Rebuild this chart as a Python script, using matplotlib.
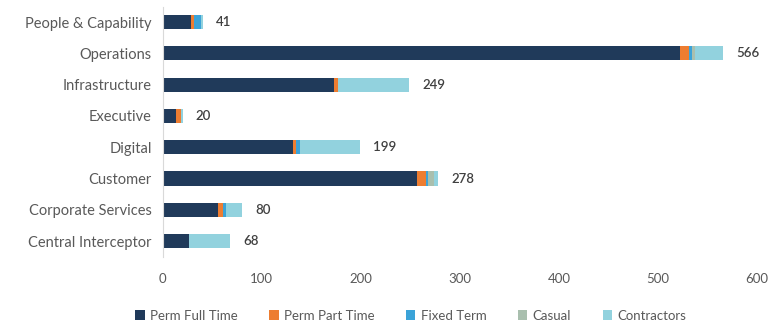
import matplotlib.pyplot as plt
import numpy as np

plt.rcParams['font.family'] = ['Lato', 'DejaVu Sans']

# Headcount by division, split by employment type
divisions = ['People & Capability', 'Operations', 'Infrastructure', 'Executive',
             'Digital', 'Customer', 'Corporate Services', 'Central Interceptor']
perm_full_time = [29, 522, 173, 13, 131, 257, 56, 26]
perm_part_time = [3, 9, 4, 5, 3, 9, 5, 0]
fixed_term = [7, 3, 0, 0, 5, 2, 3, 0]
casual = [0, 3, 0, 0, 0, 6, 0, 0]
contractors = [2, 29, 72, 2, 60, 4, 16, 42]
totals = [41, 566, 249, 20, 199, 278, 80, 68]

series = [
    ('Perm Full Time', perm_full_time, '#203a5a'),
    ('Perm Part Time', perm_part_time, '#ed7d31'),
    ('Fixed Term', fixed_term, '#3ba3d8'),
    ('Casual', casual, '#a9bfae'),
    ('Contractors', contractors, '#92d2de'),
]

fig = plt.figure(figsize=(7.75, 3.27), dpi=100)
ax = fig.add_axes([0.21, 0.215, 0.767, 0.765])

y = np.arange(len(divisions))
left = np.zeros(len(divisions))
for name, vals, color in series:
    ax.barh(y, vals, left=left, height=0.45, color=color, label=name)
    left += np.array(vals)

# total labels to the right of each bar
for yi, tot in zip(y, totals):
    ax.text(tot + 13, yi, str(tot), va='center', ha='left',
            fontsize=9.5, color='#404040', fontweight='semibold')

ax.set_yticks(y)
ax.set_yticklabels(divisions, fontsize=10.5)
ax.set_ylim(len(divisions) - 0.5, -0.5)
ax.set_xlim(0, 600)
ax.set_xticks(range(0, 601, 100))

for side in ['top', 'right', 'bottom']:
    ax.spines[side].set_visible(False)
ax.spines['left'].set_color('#d9d9d9')
ax.tick_params(axis='both', length=0, colors='#595959')
ax.tick_params(axis='x', pad=12, labelsize=9.5)
ax.tick_params(axis='y', pad=8)

fig.legend(loc='center', bbox_to_anchor=(0.53, 0.035), ncol=5, frameon=False,
           fontsize=9.5, handlelength=0.7, handleheight=0.7, columnspacing=2.4,
           handletextpad=0.4, labelcolor='#595959')

fig.savefig('out.png', dpi=100)
